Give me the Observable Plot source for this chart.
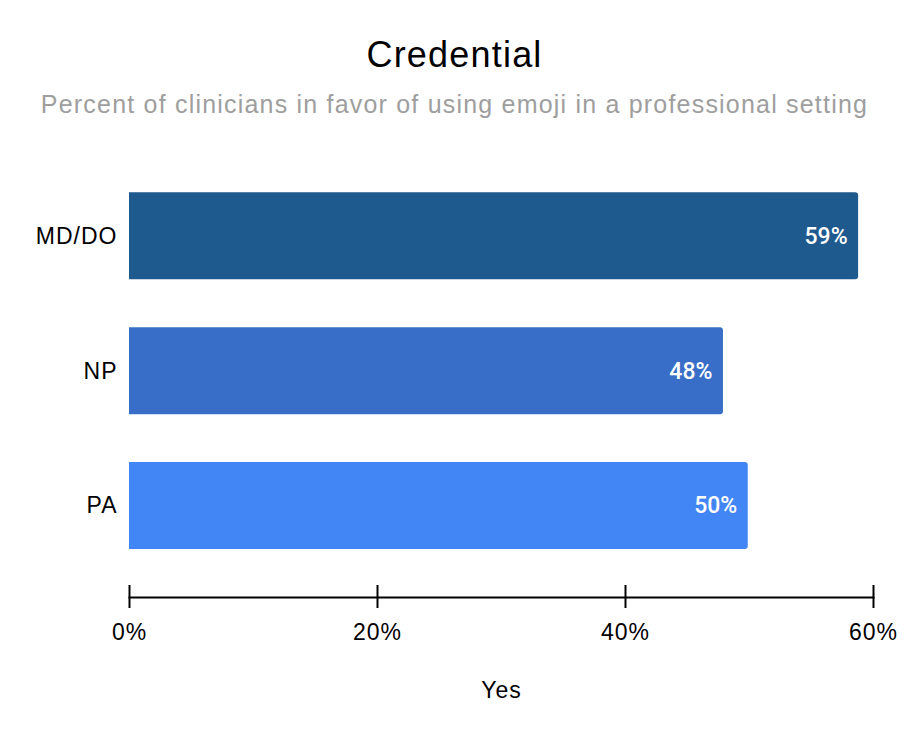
<!DOCTYPE html>
<html>
<head>
<meta charset="utf-8">
<script src="https://cdn.jsdelivr.net/npm/d3@7"></script>
<script src="https://cdn.jsdelivr.net/npm/@observablehq/plot@0.6"></script>
<style>
  body { margin: 0; background: #fff; font-family: "Liberation Sans", Arial, sans-serif; }
  #wrap { position: relative; width: 909px; }
  #header { position: relative; height: 135px; }
  #title { position: absolute; left: 0; width: 909px; top: 34px; text-align: center; font-size: 36px; letter-spacing: 1.2px; color: #000; }
  #subtitle { position: absolute; left: 0; width: 909px; top: 90px; text-align: center; font-size: 25px; letter-spacing: 1.2px; color: #9e9e9e; }
  #chart svg { display: block; }
</style>
</head>
<body>
<div id="wrap">
  <div id="header">
    <div id="title">Credential</div>
    <div id="subtitle">Percent of clinicians in favor of using emoji in a professional setting</div>
  </div>
  <div id="chart"></div>
</div>
<script>
const categories = ["MD/DO", "NP", "PA"];
const values = [58.8, 47.9, 49.9];
const valueLabels = ["59%", "48%", "50%"];
const barColors = ["#1f5a8e", "#386ec7", "#4285f4"];
const xTicks = [0, 20, 40, 60];
const xTickLabels = ["0%", "20%", "40%", "60%"];
const axisTitle = "Yes";

const data = categories.map((c, i) => ({category: c, value: values[i], label: valueLabels[i], color: barColors[i]}));

const W = 909, H = 607;
const frameBottom = 462;

const chart = Plot.plot({
  width: W,
  height: H,
  marginLeft: 129,
  marginRight: 36,
  marginTop: 0,
  marginBottom: H - frameBottom,
  style: {fontFamily: "'Liberation Sans', Arial, sans-serif", fontSize: "23px", letterSpacing: "1px", color: "#000", background: "#fff"},
  x: {domain: [0, 60]},
  y: {domain: categories, padding: 0.355, insetTop: 9.3, insetBottom: 0, round: false},
  marks: [
    Plot.barX(data, {x: "value", y: "category", fill: "color", rx2: 3}),
    Plot.text(data, {x: "value", y: "category", text: "label", textAnchor: "end", dx: -11, fill: "white",
      fontSize: 23, fontFamily: "Roboto, sans-serif", fontWeight: 500}),
    Plot.frame({anchor: "bottom", stroke: "#000", strokeWidth: 2}),
    Plot.ruleX(xTicks, {insetTop: frameBottom - 12, stroke: "#000", strokeWidth: 2}),
    Plot.axisX(xTicks, {tickSize: 11, tickPadding: 15, strokeWidth: 2, stroke: "#000", fill: "#000",
      tickFormat: (d) => xTickLabels[xTicks.indexOf(d)], fontSize: 23, label: null}),
    Plot.axisY({tickSize: 0, tickPadding: 12, fill: "#000", fontSize: 23, label: null}),
    Plot.text([axisTitle], {frameAnchor: "bottom", dy: 93, lineAnchor: "middle", fill: "#000", fontSize: 23})
  ]
});
d3.select(chart).selectAll("g[fill='white']").style("letter-spacing", "0px");
document.getElementById("chart").appendChild(chart);
</script>
</body>
</html>
